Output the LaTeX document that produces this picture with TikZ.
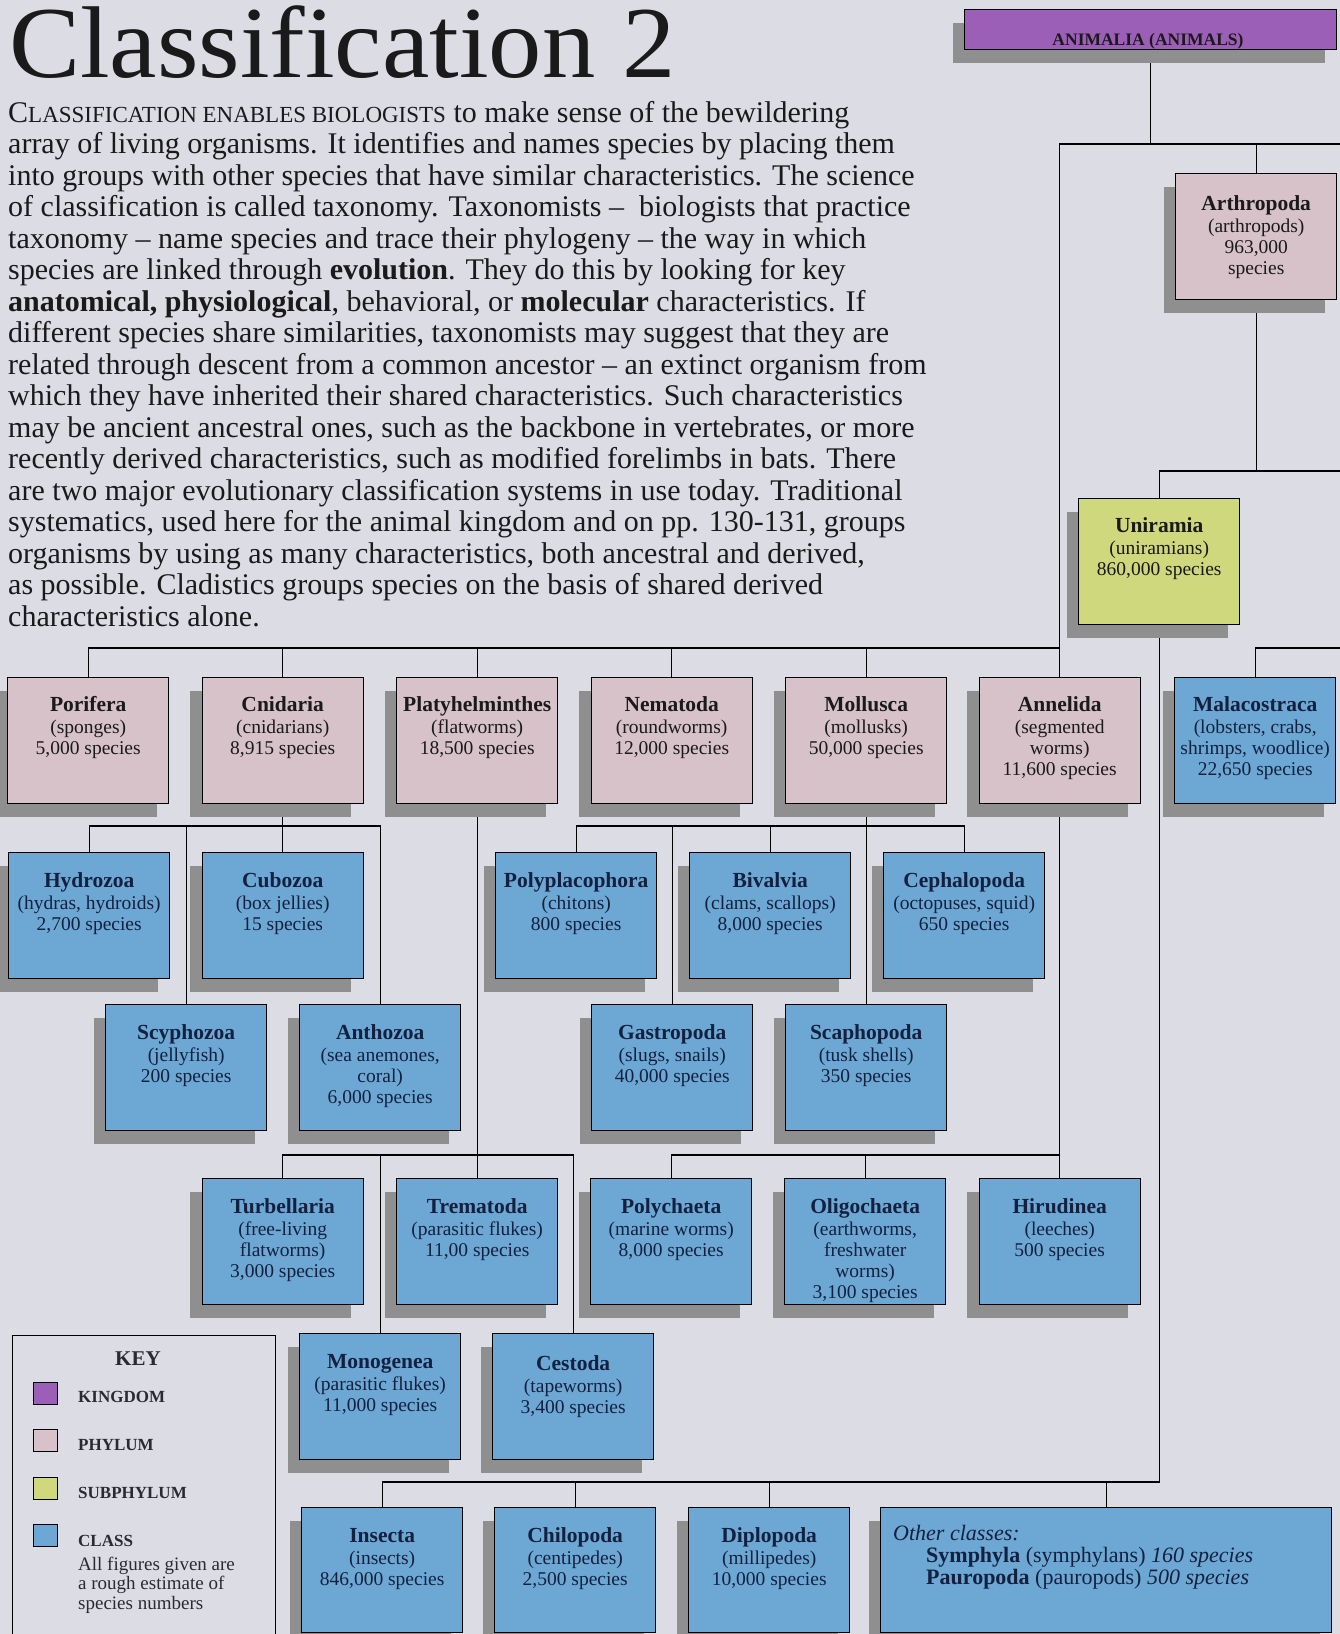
\documentclass[tikz,border=0pt]{standalone}
\usepackage{fontspec}
\setmainfont{Liberation Serif}
\usetikzlibrary{shadows,calc}
\definecolor{bgc}{HTML}{DCDCE4}
\definecolor{kngc}{HTML}{9B5FB8}
\definecolor{phyc}{HTML}{D6C2C8}
\definecolor{subc}{HTML}{CFD87C}
\definecolor{clsc}{HTML}{6CA8D3}
\definecolor{shadowc}{HTML}{8F8F8F}
\definecolor{txtc}{HTML}{1A1A1A}
\definecolor{clstxt}{HTML}{14203F}
\definecolor{keytxt}{HTML}{2A2A35}
\pgfdeclarelayer{bg}
\pgfsetlayers{bg,main}
\tikzset{
  boxbase/.style={draw=black, line width=1.4pt, minimum width=161pt, minimum height=126pt,
    anchor=north west, inner sep=0pt,
    drop shadow={shadow xshift=-12pt, shadow yshift=-13pt, fill=shadowc, opacity=1}},
  kng/.style={boxbase, fill=kngc},
  phy/.style={boxbase, fill=phyc},
  sub/.style={boxbase, fill=subc},
  cls/.style={boxbase, fill=clsc},
  txt/.style={anchor=north, align=center, inner sep=0pt, text=txtc,
    font=\fontsize{19.5}{21}\selectfont},
  ctxt/.style={txt, text=clstxt},
  body/.style={anchor=base west, inner sep=0pt, text=txtc, font=\fontsize{30}{31.5}\selectfont},
  conn/.style={draw=black, line width=1.3pt},
  keylbl/.style={anchor=base west, inner sep=0pt, text=keytxt, font=\fontsize{17}{18}\selectfont\bfseries},
  keysw/.style={draw=black, line width=0.9pt, minimum width=24pt, minimum height=22pt, inner sep=0pt, anchor=north west},
  othertxt/.style={anchor=base west, inner sep=0pt, text=clstxt, font=\fontsize{22}{22}\selectfont},
}
\newcommand\bt[1]{\rule{0pt}{16pt}{\fontsize{21.5}{22}\selectfont\bfseries #1}}
\newcommand\boxtext[4]{\node[#1] (#2T) at ($(#2.north)+(0,#3)$) {#4};}
\begin{document}
\begin{tikzpicture}[x=1pt,y=-1pt]
\begin{pgfonlayer}{bg}
\fill[bgc] (0,0) rectangle (1340,1634);
\end{pgfonlayer}
\useasboundingbox (0,0) rectangle (1340,1634);

% title and body text
\node[anchor=base west, inner sep=0pt, text=txtc, font=\fontsize{102}{108}\selectfont] (title) at (9,77) {\scalebox{1.045}[1]{Classification 2}};
\node[body] (p1) at (8,122.0) {C{\fontsize{23}{31.5}\selectfont LASSIFICATION ENABLES BIOLOGISTS} to make sense of the bewildering};
\node[body] (p2) at (8,153.5) {array of living organisms. It identifies and names species by placing them};
\node[body] (p3) at (8,185.0) {into groups with other species that have similar characteristics. The science};
\node[body] (p4) at (8,216.5) {of classification is called taxonomy. Taxonomists –\ \ biologists that practice};
\node[body] (p5) at (8,248.0) {taxonomy – name species and trace their phylogeny – the way in which};
\node[body] (p6) at (8,279.5) {species are linked through \textbf{evolution}. They do this by looking for key};
\node[body] (p7) at (8,311.0) {\textbf{anatomical, physiological}, behavioral, or \textbf{molecular} characteristics. If};
\node[body] (p8) at (8,342.5) {different species share similarities, taxonomists may suggest that they are};
\node[body] (p9) at (8,374.0) {related through descent from a common ancestor – an extinct organism from};
\node[body] (p10) at (8,405.5) {which they have inherited their shared characteristics. Such characteristics};
\node[body] (p11) at (8,437.0) {may be ancient ancestral ones, such as the backbone in vertebrates, or more};
\node[body] (p12) at (8,468.5) {recently derived characteristics, such as modified forelimbs in bats. There};
\node[body] (p13) at (8,500.0) {are two major evolutionary classification systems in use today. Traditional};
\node[body] (p14) at (8,531.5) {systematics, used here for the animal kingdom and on pp. 130-131, groups};
\node[body] (p15) at (8,563.0) {organisms by using as many characteristics, both ancestral and derived,};
\node[body] (p16) at (8,594.5) {as possible. Cladistics groups species on the basis of shared derived};
\node[body] (p17) at (8,626.0) {characteristics alone.};

% kingdom
\node[kng, minimum width=372pt, minimum height=40pt] (animalia) at (964,9) {};
\node[anchor=base, inner sep=0pt, text=txtc, font=\fontsize{17.5}{18}\selectfont\bfseries] (animaliaT) at (1148,45) {ANIMALIA (ANIMALS)};

% phyla / subphylum
\node[phy] (arthropoda) at (1175,173) {};
\node[sub] (uniramia) at (1078,498) {};
\node[phy] (porifera) at (7,677) {};
\node[phy] (cnidaria) at (201.5,677) {};
\node[phy] (platy) at (396,677) {};
\node[phy] (nematoda) at (590.5,677) {};
\node[phy] (mollusca) at (785,677) {};
\node[phy] (annelida) at (978.5,677) {};
\node[cls] (malaco) at (1174,677) {};

% classes
\node[cls] (hydrozoa) at (8,852) {};
\node[cls] (cubozoa) at (201.5,852) {};
\node[cls] (polyplaco) at (495,852) {};
\node[cls] (bivalvia) at (689,852) {};
\node[cls] (cephalo) at (883,852) {};
\node[cls] (scyphozoa) at (105,1004) {};
\node[cls] (anthozoa) at (299,1004) {};
\node[cls] (gastropoda) at (591,1004) {};
\node[cls] (scaphopoda) at (785,1004) {};
\node[cls] (turbellaria) at (201.5,1178) {};
\node[cls] (trematoda) at (396,1178) {};
\node[cls] (polychaeta) at (590,1178) {};
\node[cls] (oligochaeta) at (784,1178) {};
\node[cls] (hirudinea) at (978.5,1178) {};
\node[cls] (monogenea) at (299,1333) {};
\node[cls] (cestoda) at (492,1333) {};
\node[cls, minimum height=125pt] (insecta) at (301,1507) {};
\node[cls, minimum height=125pt] (chilopoda) at (494,1507) {};
\node[cls, minimum height=125pt] (diplopoda) at (688,1507) {};
\node[cls, minimum height=125pt, minimum width=451pt] (other) at (880,1507) {};

% box texts
\boxtext{txt}{arthropoda}{21}{\bt{Arthropoda}\\[1pt](arthropods)\\963,000\\species}
\boxtext{txt}{uniramia}{18}{\bt{Uniramia}\\[1pt](uniramians)\\860,000 species}
\boxtext{txt}{porifera}{18}{\bt{Porifera}\\[1pt](sponges)\\5,000 species}
\boxtext{txt}{cnidaria}{18}{\bt{Cnidaria}\\[1pt](cnidarians)\\8,915 species}
\boxtext{txt}{platy}{18}{\bt{Platyhelminthes}\\[1pt](flatworms)\\18,500 species}
\boxtext{txt}{nematoda}{18}{\bt{Nematoda}\\[1pt](roundworms)\\12,000 species}
\boxtext{txt}{mollusca}{18}{\bt{Mollusca}\\[1pt](mollusks)\\50,000 species}
\boxtext{txt}{annelida}{18}{\bt{Annelida}\\[1pt](segmented\\worms)\\11,600 species}
\boxtext{ctxt}{malaco}{18}{\bt{Malacostraca}\\[1pt](lobsters, crabs,\\shrimps, woodlice)\\22,650 species}
\boxtext{ctxt}{hydrozoa}{19}{\bt{Hydrozoa}\\[1pt](hydras, hydroids)\\2,700 species}
\boxtext{ctxt}{cubozoa}{19}{\bt{Cubozoa}\\[1pt](box jellies)\\15 species}
\boxtext{ctxt}{polyplaco}{19}{\bt{Polyplacophora}\\[1pt](chitons)\\800 species}
\boxtext{ctxt}{bivalvia}{19}{\bt{Bivalvia}\\[1pt](clams, scallops)\\8,000 species}
\boxtext{ctxt}{cephalo}{19}{\bt{Cephalopoda}\\[1pt](octopuses, squid)\\650 species}
\boxtext{ctxt}{scyphozoa}{19}{\bt{Scyphozoa}\\[1pt](jellyfish)\\200 species}
\boxtext{ctxt}{anthozoa}{19}{\bt{Anthozoa}\\[1pt](sea anemones,\\coral)\\6,000 species}
\boxtext{ctxt}{gastropoda}{19}{\bt{Gastropoda}\\[1pt](slugs, snails)\\40,000 species}
\boxtext{ctxt}{scaphopoda}{19}{\bt{Scaphopoda}\\[1pt](tusk shells)\\350 species}
\boxtext{ctxt}{turbellaria}{19}{\bt{Turbellaria}\\[1pt](free-living\\flatworms)\\3,000 species}
\boxtext{ctxt}{trematoda}{19}{\bt{Trematoda}\\[1pt](parasitic flukes)\\11,00 species}
\boxtext{ctxt}{polychaeta}{19}{\bt{Polychaeta}\\[1pt](marine worms)\\8,000 species}
\boxtext{ctxt}{oligochaeta}{19}{\bt{Oligochaeta}\\[1pt](earthworms,\\freshwater\\worms)\\3,100 species}
\boxtext{ctxt}{hirudinea}{19}{\bt{Hirudinea}\\[1pt](leeches)\\500 species}
\boxtext{ctxt}{monogenea}{19}{\bt{Monogenea}\\[1pt](parasitic flukes)\\11,000 species}
\boxtext{ctxt}{cestoda}{21}{\bt{Cestoda}\\[1pt](tapeworms)\\3,400 species}
\boxtext{ctxt}{insecta}{19}{\bt{Insecta}\\[1pt](insects)\\846,000 species}
\boxtext{ctxt}{chilopoda}{19}{\bt{Chilopoda}\\[1pt](centipedes)\\2,500 species}
\boxtext{ctxt}{diplopoda}{19}{\bt{Diplopoda}\\[1pt](millipedes)\\10,000 species}
\node[othertxt] (otherT1) at (893,1540) {\textit{Other classes:}};
\node[othertxt] (otherT2) at (926,1562) {\textbf{Symphyla} (symphylans) \textit{160 species}};
\node[othertxt] (otherT3) at (926,1584) {\textbf{Pauropoda} (pauropods) \textit{500 species}};

% key
\node[draw=black, line width=1pt, minimum width=263pt, minimum height=310pt, anchor=north west, inner sep=0pt] (key) at (12,1335) {};
\node[anchor=base, inner sep=0pt, text=keytxt, font=\fontsize{21}{22}\selectfont\bfseries] (keyT) at (138,1365) {KEY};
\node[keysw, fill=kngc] (swk) at (33,1382) {};
\node[keysw, fill=phyc] (swp) at (33,1429) {};
\node[keysw, fill=subc] (sws) at (33,1477) {};
\node[keysw, fill=clsc] (swc) at (33,1524) {};
\node[keylbl] (lk) at (78,1402) {KINGDOM};
\node[keylbl] (lp) at (78,1450) {PHYLUM};
\node[keylbl] (ls) at (78,1498) {SUBPHYLUM};
\node[keylbl] (lc) at (78,1546) {CLASS};
\node[anchor=north west, align=left, inner sep=0pt, text=keytxt, font=\fontsize{19}{19.3}\selectfont] (keynote) at (78,1557) {All figures given are\\a rough estimate of\\species numbers};

% connectors
\coordinate (eA) at (1340,144);
\coordinate (eU) at (1340,471);
\coordinate (eM) at (1340,648);
\coordinate (yP) at (0,648);
\coordinate (yC) at (0,826);
\coordinate (yT) at (0,1155);
\coordinate (yI) at (0,1482);
\begin{pgfonlayer}{bg}
\draw[conn] (animalia.south) -- (animalia.south |- eA);
\draw[conn] (annelida.north) |- (eA);
\draw[conn] (arthropoda.north) -- (arthropoda.north |- eA);
\draw[conn] (arthropoda.south) -- (arthropoda.south |- eU);
\draw[conn] (uniramia.north) |- (eU);
\draw[conn] (malaco.north) |- (eM);
\draw[conn] (porifera.north) |- (annelida.north |- yP);
\foreach \n in {cnidaria,platy,nematoda,mollusca}
  \draw[conn] (\n.north) -- (\n.north |- yP);
% cnidaria
\draw[conn] (cnidaria.south) -- (cubozoa.north);
\draw[conn] (hydrozoa.north) |- (anthozoa.north |- yC) -- (anthozoa.north);
\draw[conn] (scyphozoa.north) -- (scyphozoa.north |- yC);
% mollusca
\draw[conn] (mollusca.south) -- (scaphopoda.north);
\draw[conn] (polyplaco.north) |- (cephalo.north |- yC) -- (cephalo.north);
\draw[conn] (bivalvia.north) -- (bivalvia.north |- yC);
\draw[conn] (gastropoda.north) -- (gastropoda.north |- yC);
% platyhelminthes
\draw[conn] (platy.south) -- (trematoda.north);
\draw[conn] (turbellaria.north) |- (cestoda.north |- yT) -- (cestoda.north);
\draw[conn] (monogenea.north) -- (monogenea.north |- yT);
% annelida
\draw[conn] (annelida.south) -- (hirudinea.north);
\draw[conn] (polychaeta.north) |- (hirudinea.north |- yT);
\draw[conn] (oligochaeta.north) -- (oligochaeta.north |- yT);
% uniramia
\draw[conn] (uniramia.south) |- (insecta.north |- yI) -- (insecta.north);
\draw[conn] (chilopoda.north) -- (chilopoda.north |- yI);
\draw[conn] (diplopoda.north) -- (diplopoda.north |- yI);
\draw[conn] (other.north) -- (other.north |- yI);
\end{pgfonlayer}
\end{tikzpicture}
\end{document}
